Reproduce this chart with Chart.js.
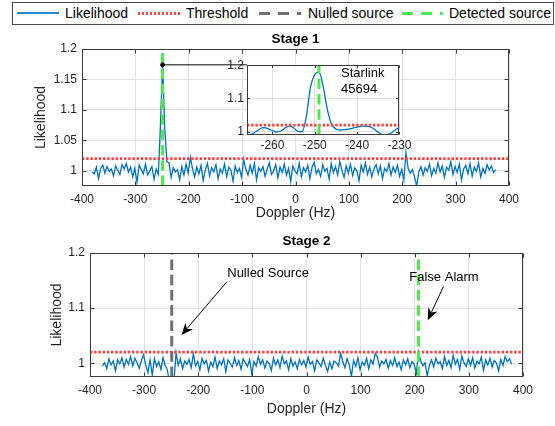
<!DOCTYPE html>
<html>
<head>
<meta charset="utf-8">
<script src="https://cdn.jsdelivr.net/npm/chart.js@4.4.1/dist/chart.umd.min.js"></script>
<style>
  body { margin: 0; width: 555px; height: 426px; background: #fff; position: relative; overflow: hidden;
         font-family: "Liberation Sans", Arial, Helvetica, sans-serif; }
  canvas { position: absolute; }
  #legendBox { position: absolute; left: 12px; top: 2px; width: 542px; height: 23px; border: 1px solid #4a4a4a; box-sizing: border-box; background: #fff; }
  .sw { position: absolute; }
  .lt { position: absolute; top: 5px; font-size: 14px; line-height: 16px; color: #000; white-space: nowrap; }
</style>
</head>
<body>
<div id="legendBox"></div>
<div class="sw" style="left:17px;top:12px;width:42px;height:2px;background:#2a86c8"></div>
<div class="lt" style="left:65px">Likelihood</div>
<div class="sw" style="left:138px;top:12px;width:44px;height:2.5px;background:repeating-linear-gradient(90deg,#ff4040 0 2.2px,transparent 2.2px 4px)"></div>
<div class="lt" style="left:186px">Threshold</div>
<div class="sw" style="left:259px;top:11.5px;width:42px;height:3px;background:repeating-linear-gradient(90deg,#707070 0 11px,transparent 11px 19px)"></div>
<div class="lt" style="left:308px">Nulled source</div>
<div class="sw" style="left:402px;top:11.5px;width:41px;height:3px;background:repeating-linear-gradient(90deg,#4fe84f 0 11px,transparent 11px 19px)"></div>
<div class="lt" style="left:449px">Detected source</div>

<canvas id="stage1" width="555" height="200" style="left:0;top:28px"></canvas>
<canvas id="stage2" width="555" height="198" style="left:0;top:228px"></canvas>
<canvas id="inset" width="200" height="105" style="left:215px;top:55px"></canvas>

<script>
// Axe Doppler : premier bin et pas (Hz)
const dopplerStart1 = -381;
const dopplerStart2 = -377;
const dopplerStep = 4;

// Vraisemblance, étape 1
const stage1Likelihood = [
  0.998, 0.995, 1.006, 0.987, 1.004, 1.009, 0.996, 1.007, 0.999, 1.003,
  0.992, 1.008, 1.001, 0.994, 1.010, 1.003, 1.012, 0.998, 1.006, 0.990,
  1.004, 0.981, 1.009, 1.002, 0.995, 1.011, 0.993, 1.000, 1.007, 0.986,
  1.003, 0.994, 1.075, 1.177, 1.070, 1.015, 1.013, 0.989, 1.005, 0.998,
  1.002, 0.985, 1.007, 0.993, 1.011, 0.996, 1.022, 1.004, 0.990, 1.006,
  0.995, 1.009, 0.984, 1.001, 1.012, 0.992, 1.005, 0.998, 1.010, 0.987,
  1.003, 0.996, 1.011, 0.990, 1.006, 1.001, 0.983, 1.008, 0.997, 1.004,
  0.989, 1.019, 1.002, 0.993, 1.009, 0.996, 1.012, 0.985, 1.005, 0.999,
  1.007, 0.991, 1.003, 1.013, 0.994, 1.000, 1.010, 0.988, 1.006, 0.997,
  1.011, 0.993, 1.004, 0.982, 1.008, 1.000, 0.995, 1.012, 0.990, 1.005,
  0.998, 1.009, 0.987, 1.006, 1.014, 0.995, 1.002, 0.991, 1.010, 0.999,
  1.004, 0.986, 1.012, 0.997, 1.007, 0.993, 1.015, 1.001, 0.989, 1.008,
  0.996, 1.011, 0.992, 1.005, 1.000, 0.984, 1.009, 0.998, 1.013, 0.994,
  1.006, 0.990, 1.003, 1.010, 0.995, 1.008, 0.987, 1.004, 0.999, 1.012,
  0.993, 1.006, 0.997, 1.009, 0.991, 1.002, 0.985, 1.030, 1.004, 0.996,
  1.002, 0.990, 0.975, 0.998, 1.007, 0.993, 1.005, 0.999, 1.011, 0.992,
  1.004, 0.996, 1.013, 0.998, 1.008, 0.989, 1.006, 1.001, 1.015, 0.994,
  1.007, 0.997, 1.011, 0.985, 1.003, 1.009, 0.995, 1.012, 0.991, 1.006,
  0.999, 1.013, 0.990, 1.004, 0.996, 1.010, 1.001, 1.008, 0.997, 1.002
];

// Vraisemblance, étape 2 (source annulée)
const stage2Likelihood = [
  0.995, 1.001, 0.990, 1.008, 0.997, 1.004, 0.986, 1.006, 0.999, 1.010,
  0.993, 1.007, 0.998, 1.012, 0.995, 1.009, 1.001, 0.991, 1.005, 1.015,
  0.997, 0.983, 1.006, 0.978, 1.008, 0.994, 1.003, 0.989, 1.010, 0.996,
  0.988, 0.962, 0.960, 0.965, 1.019, 0.996, 1.008, 0.990, 1.004, 0.998,
  1.007, 0.992, 1.017, 0.995, 1.003, 0.988, 1.009, 0.999, 1.005, 0.986,
  1.002, 0.994, 1.011, 0.990, 1.004, 0.997, 1.008, 0.985, 1.006, 1.000,
  0.993, 1.010, 0.996, 1.005, 0.989, 1.008, 1.001, 0.994, 1.007, 0.980,
  1.003, 0.995, 1.012, 0.998, 1.006, 0.991, 1.004, 1.000, 0.987, 1.009,
  0.997, 1.006, 0.992, 1.013, 0.999, 1.004, 0.988, 1.008, 0.995, 1.002,
  0.990, 1.007, 0.997, 1.005, 0.993, 1.011, 0.998, 1.003, 0.986, 1.006,
  1.000, 0.994, 1.009, 0.996, 0.985, 1.002, 0.990, 1.004, 1.001, 0.995,
  1.018, 1.003, 0.992, 1.008, 0.997, 0.976, 1.005, 0.994, 1.010, 0.988,
  1.002, 0.996, 1.009, 0.990, 1.006, 0.998, 1.018, 1.011, 0.993, 1.004,
  0.999, 1.007, 0.991, 1.005, 0.996, 1.010, 0.994, 1.002, 0.988, 1.006,
  0.997, 1.008, 0.992, 1.003, 0.998, 0.982, 1.020, 1.004, 0.995, 1.001,
  0.977, 0.996, 1.006, 0.993, 1.009, 0.999, 1.003, 0.990, 1.012, 0.996,
  1.005, 0.992, 1.014, 0.998, 1.007, 0.989, 1.013, 1.001, 0.994, 1.008,
  0.996, 1.010, 0.991, 1.004, 0.999, 1.011, 0.987, 1.006, 0.997, 1.009,
  0.993, 1.005, 1.000, 0.986, 1.007, 0.996, 1.012, 1.003, 1.008, 0.998
];

// Zoom sur le pic (encart)
const insetDoppler = [
  -266, -265, -264, -263, -262, -261, -260, -259, -258, -257, -256, -255, -254,
  -253, -252, -251, -250, -249, -248, -247, -246, -245, -244, -243, -242, -241,
  -240, -239, -238, -237, -236, -235, -234, -233, -232, -231, -230
];
const insetLikelihood = [
  0.990, 0.992, 0.999, 1.008, 1.012, 1.009, 1.003, 0.999, 1.002, 1.011, 1.017, 1.012, 1.001,
  1.000, 1.045, 1.135, 1.172, 1.180, 1.135, 1.065, 1.022, 1.008, 1.005, 1.006, 1.008, 1.011,
  1.014, 1.016, 1.017, 1.015, 1.008, 0.998, 0.991, 0.990, 0.996, 1.005, 1.012
];

const thresholdLevel = 1.02;
const detectedStage1 = -249;
const nulledStage2 = -249;
const falseAlarmStage2 = 207;

// Graduations
const dopplerTicks = [-400, -300, -200, -100, 0, 100, 200, 300, 400];
const stage1YTicks = [1, 1.05, 1.1, 1.15, 1.2];
const stage2YTicks = [1, 1.1, 1.2];
const insetXTicks = [-260, -250, -240, -230];
const insetYTicks = [1, 1.1, 1.2];

// Annotations
const peakMarker = [-249, 1.174];
const peakLinkEnd = -91;
const insetLabel = ["Starlink", "45694"];
const insetLabelPos = [[-243.8, 1.176], [-243.8, 1.128]];
const annotationText = ["Nulled Source", "False Alarm"];
const annotationTextPos = [[-71, 1.163], [254, 1.155]];
const arrowTail = [[-147, 1.148], [253, 1.139]];
const arrowTip = [[-231, 1.051], [224, 1.078]];

const FONT = '"Liberation Sans", Arial, Helvetica, sans-serif';
Chart.defaults.font.family = FONT;
Chart.defaults.color = "#262626";

const BLUE = "#0072BD", RED = "#ff4040", GREEN = "#4fe84f", GREY = "#707070";

const toPoints = (start, vals) => vals.map((v, i) => ({ x: start + i * dopplerStep, y: v }));
const vLine = (x, y0, y1) => [{ x: x, y: y0 }, { x: x, y: y1 }];
const hLine = (y, x0, x1) => [{ x: x0, y: y }, { x: x1, y: y }];

function linScale(min, max, ticks, o) {
  return {
    type: "linear", min: min, max: max,
    afterBuildTicks: s => { s.ticks = ticks.map(v => ({ value: v })); },
    afterFit: s => { if (o.w) s.width = o.w; if (o.h) s.height = o.h; },
    ticks: { callback: v => String(v), font: { size: 12 }, color: "#262626", padding: o.pad, autoSkip: false, maxRotation: 0 },
    grid: { color: "#e2e2e2", drawTicks: false },
    border: { display: false },
    title: o.title ? { display: true, text: o.title, font: { size: 14 }, color: "#262626", padding: o.titlePad } : { display: false }
  };
}

// cadre + petites graduations intérieures façon MATLAB
const axesBox = {
  id: "axesBox",
  beforeDraw(chart, args, o) {
    if (!o.fill) return;
    const a = chart.chartArea, ctx = chart.ctx;
    ctx.save(); ctx.fillStyle = "#fff";
    ctx.fillRect(a.left, a.top, a.right - a.left, a.bottom - a.top);
    ctx.restore();
  },
  afterDatasetsDraw(chart, args, o) {
    const { ctx, chartArea: a, scales: { x, y } } = chart;
    const L = Math.round(a.left) + 0.5, R = Math.round(a.right) - 0.5;
    const T = Math.round(a.top) + 0.5, B = Math.round(a.bottom) - 0.5;
    const tl = o.tickLen || 4;
    ctx.save();
    ctx.strokeStyle = "#3c3c3c"; ctx.lineWidth = 1;
    ctx.strokeRect(L, T, R - L, B - T);
    ctx.beginPath();
    x.ticks.forEach(t => {
      const px = Math.round(x.getPixelForValue(t.value)) + 0.5;
      ctx.moveTo(px, B); ctx.lineTo(px, B - tl);
      ctx.moveTo(px, T); ctx.lineTo(px, T + tl);
    });
    y.ticks.forEach(t => {
      const py = Math.round(y.getPixelForValue(t.value)) + 0.5;
      ctx.moveTo(L, py); ctx.lineTo(L + tl, py);
      ctx.moveTo(R, py); ctx.lineTo(R - tl, py);
    });
    ctx.stroke();
    ctx.restore();
  }
};

function drawArrow(ctx, x0, y0, x1, y1) {
  const ang = Math.atan2(y1 - y0, x1 - x0);
  const c = Math.cos(ang), s = Math.sin(ang);
  const hl = 12, hw = 5;
  const bx = x1 - hl * c, by = y1 - hl * s;
  const nx = x1 - hl * 0.7 * c, ny = y1 - hl * 0.7 * s;
  ctx.beginPath(); ctx.moveTo(x0, y0); ctx.lineTo(nx, ny); ctx.stroke();
  ctx.beginPath();
  ctx.moveTo(x1, y1);
  ctx.lineTo(bx + hw * s, by - hw * c);
  ctx.lineTo(nx, ny);
  ctx.lineTo(bx - hw * s, by + hw * c);
  ctx.closePath(); ctx.fill();
}

const stage2Notes = {
  id: "stage2Notes",
  afterDatasetsDraw(chart) {
    const { ctx, scales: { x, y } } = chart;
    ctx.save();
    ctx.fillStyle = "#000"; ctx.strokeStyle = "#000"; ctx.lineWidth = 1;
    ctx.font = "13px " + FONT; ctx.textAlign = "center"; ctx.textBaseline = "middle";
    annotationText.forEach((t, i) => {
      ctx.fillText(t, x.getPixelForValue(annotationTextPos[i][0]), y.getPixelForValue(annotationTextPos[i][1]));
      drawArrow(ctx, x.getPixelForValue(arrowTail[i][0]), y.getPixelForValue(arrowTail[i][1]),
                x.getPixelForValue(arrowTip[i][0]), y.getPixelForValue(arrowTip[i][1]));
    });
    ctx.restore();
  }
};

const insetNotes = {
  id: "insetNotes",
  afterDatasetsDraw(chart) {
    const { ctx, scales: { x, y } } = chart;
    ctx.save();
    ctx.fillStyle = "#000"; ctx.font = "13px " + FONT;
    ctx.textAlign = "left"; ctx.textBaseline = "middle";
    insetLabel.forEach((t, i) => ctx.fillText(t, x.getPixelForValue(insetLabelPos[i][0]), y.getPixelForValue(insetLabelPos[i][1])));
    ctx.restore();
  }
};

const common = {
  responsive: false, animation: false, devicePixelRatio: 1,
  events: [],
  elements: { line: { tension: 0 }, point: { radius: 0 } }
};

// Étape 1
new Chart(document.getElementById("stage1"), {
  type: "line",
  data: {
    datasets: [
      { label: "Detected source", data: vLine(detectedStage1, 0.975, 1.2), borderColor: GREEN, borderWidth: 3, borderDash: [10.5, 4.8], order: 1 },
      { label: "link", data: hLine(peakMarker[1], peakMarker[0], peakLinkEnd), borderColor: "#000", borderWidth: 1,
        pointRadius: [2, 0], pointBackgroundColor: "#000", pointBorderColor: "#000", order: 0 },
      { label: "Threshold", data: hLine(thresholdLevel, -400, 400), borderColor: RED, borderWidth: 2.7, borderDash: [2.4, 1.8], order: 2 },
      { label: "Likelihood", data: toPoints(dopplerStart1, stage1Likelihood), borderColor: BLUE, borderWidth: 1.3, order: 3 }
    ]
  },
  options: Object.assign({}, common, {
    layout: { padding: { left: 33, right: 46, top: 0, bottom: 0 } },
    scales: {
      x: linScale(-400, 400, dopplerTicks, { h: 42, pad: 6, title: "Doppler (Hz)", titlePad: { top: 0, bottom: 6.6 } }),
      y: linScale(0.975, 1.2, stage1YTicks, { w: 49, pad: 5, title: "Likelihood", titlePad: { top: 0, bottom: 0 } })
    },
    plugins: {
      legend: { display: false }, tooltip: { enabled: false },
      title: { display: true, text: "Stage 1", fullSize: false, color: "#000", font: { size: 13.5, weight: "bold" }, padding: { top: 2.9, bottom: 1.9 } },
      axesBox: { tickLen: 4 }
    }
  }),
  plugins: [axesBox]
});

// Étape 2
new Chart(document.getElementById("stage2"), {
  type: "line",
  data: {
    datasets: [
      { label: "Detected source", data: vLine(falseAlarmStage2, 0.975, 1.2), borderColor: GREEN, borderWidth: 3, borderDash: [10.5, 4.8], order: 1 },
      { label: "Nulled source", data: vLine(nulledStage2, 0.975, 1.2), borderColor: GREY, borderWidth: 3, borderDash: [10.5, 4.8], order: 1 },
      { label: "Threshold", data: hLine(thresholdLevel, -400, 400), borderColor: RED, borderWidth: 2.7, borderDash: [2.4, 1.8], order: 2 },
      { label: "Likelihood", data: toPoints(dopplerStart2, stage2Likelihood), borderColor: BLUE, borderWidth: 1.3, order: 3 }
    ]
  },
  options: Object.assign({}, common, {
    layout: { padding: { left: 48.6, right: 32, top: 0, bottom: 0 } },
    scales: {
      x: linScale(-400, 400, dopplerTicks, { h: 49, pad: 6.5, title: "Doppler (Hz)", titlePad: { top: 0, bottom: 8.6 } }),
      y: linScale(0.975, 1.2, stage2YTicks, { w: 41.4, pad: 5, title: "Likelihood", titlePad: { top: 0, bottom: 0 } })
    },
    plugins: {
      legend: { display: false }, tooltip: { enabled: false },
      title: { display: true, text: "Stage 2", fullSize: false, color: "#000", font: { size: 13.5, weight: "bold" }, padding: { top: 4.9, bottom: 3.9 } },
      axesBox: { tickLen: 4 }
    }
  }),
  plugins: [axesBox, stage2Notes]
});

// Encart : zoom sur la détection Starlink 45694
new Chart(document.getElementById("inset"), {
  type: "line",
  data: {
    datasets: [
      { label: "Detected source", data: vLine(detectedStage1, 0.99, 1.2), borderColor: GREEN, borderWidth: 3, borderDash: [10.5, 4.8], order: 1 },
      { label: "Threshold", data: hLine(thresholdLevel, -266, -230), borderColor: RED, borderWidth: 2.7, borderDash: [2.4, 1.8], order: 2 },
      { label: "Likelihood", data: insetDoppler.map((d, i) => ({ x: d, y: insetLikelihood[i] })), borderColor: BLUE, borderWidth: 1.3,
        cubicInterpolationMode: "monotone", order: 3 }
    ]
  },
  options: Object.assign({}, common, {
    layout: { padding: { left: 0, right: 12, top: 8.5, bottom: 0 } },
    scales: {
      x: linScale(-266, -230, insetXTicks, { h: 25, pad: 3.5 }),
      y: linScale(0.99, 1.2, insetYTicks, { w: 32, pad: 3 })
    },
    plugins: {
      legend: { display: false }, tooltip: { enabled: false },
      axesBox: { tickLen: 2.5, fill: true }
    }
  }),
  plugins: [axesBox, insetNotes]
});
</script>
</body>
</html>
